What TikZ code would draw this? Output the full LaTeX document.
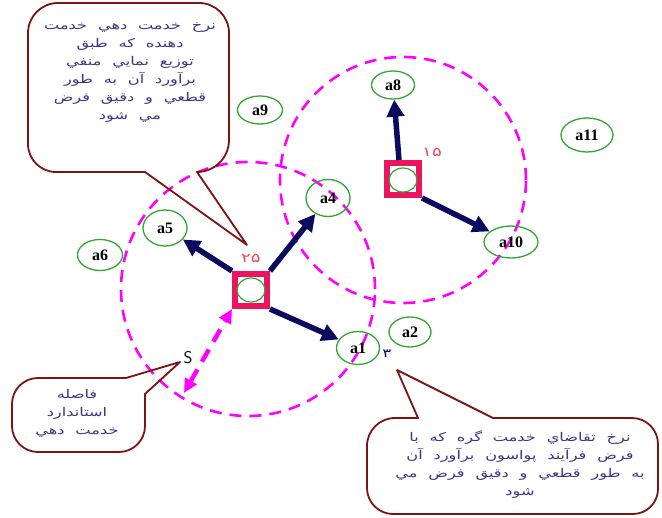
\documentclass[tikz,border=0pt]{standalone}
\usepackage{fontspec}
\usetikzlibrary{shapes.geometric,arrows.meta}
\TeXXeTstate=1
\newfontfamily\arabicfont[Script=Arabic,FakeStretch=1.35,WordSpace=2.1]{DejaVu Sans}
\newfontfamily\digfont[FakeStretch=1.4]{DejaVu Sans}
\newfontfamily\labfont{Liberation Serif}
\definecolor{mag}{RGB}{255,0,255}
\definecolor{sqc}{RGB}{235,20,95}
\definecolor{navy}{RGB}{10,10,95}
\definecolor{grn}{RGB}{50,165,50}
\definecolor{maroon}{RGB}{125,20,20}
\definecolor{txt}{RGB}{55,55,135}
\definecolor{redd}{RGB}{240,70,90}
\tikzset{
  lab/.style={ellipse, draw=grn, line width=1.3pt, inner sep=0pt,
    minimum width=44pt, minimum height=31pt,
    font=\labfont\bfseries\fontsize{16}{16}\selectfont},
  sq/.style={draw=sqc, line width=6pt, minimum size=32pt, inner sep=0pt},
  inner/.style={ellipse, draw=grn, line width=1.2pt, minimum width=28pt, minimum height=24pt, inner sep=0pt},
  narrow/.style={draw=navy, line width=5.5pt, -{Triangle[length=17pt,width=17pt]}},
  dashcirc/.style={draw=mag, line width=2.6pt, dash pattern=on 12pt off 8pt},
  callout/.style={draw=maroon, line width=1.8pt, line join=round},
  ctext/.style={text=txt, align=center, inner sep=0pt,
    font=\arabicfont\fontsize{12}{18}\selectfont},
  digit/.style={inner sep=0pt, font=\digfont\fontsize{13}{13}\selectfont}
}
\begin{document}
\begin{tikzpicture}[x=1pt,y=1pt]
\useasboundingbox (0,0) rectangle (662,-518);
% dashed service circles
\draw[dashcirc] (248,-289) circle[radius=127pt];
\draw[dashcirc] (403,-180) circle[radius=123pt];
% callout 1
\draw[callout] (145,-172) -- (247,-245) -- (197,-172)
  arc[start angle=270,end angle=360,radius=32pt] -- (229,-33)
  arc[start angle=0,end angle=90,radius=30pt] -- (58,-3)
  arc[start angle=90,end angle=180,radius=30pt] -- (28,-144)
  arc[start angle=180,end angle=270,radius=28pt] -- cycle;
\node[ctext] (t1) at (130,-72) {\beginR نرخ خدمت دهي خدمت\endR\\ \beginR دهنده كه طبق\endR\\ \beginR توزيع نمايي منفي\endR\\ \beginR برآورد آن به طور\endR\\ \beginR قطعي و دقيق فرض\endR\\ \beginR مي شود\endR};
% callout 2
\draw[callout] (397,-370) -- (493,-418) -- (632,-418)
  arc[start angle=90,end angle=0,radius=26pt] -- (658,-489)
  arc[start angle=0,end angle=-90,radius=25pt] -- (393,-514)
  arc[start angle=270,end angle=180,radius=26pt] -- (367,-446)
  arc[start angle=180,end angle=90,radius=28pt] -- (418,-418) -- cycle;
\node[ctext] (t2) at (520,-465) {\beginR نرخ تقاضاي خدمت گره كه با\endR\\ \beginR فرض فرآيند پواسون برآورد آن\endR\\ \beginR به طور قطعي و دقيق فرض مي\endR\\ \beginR شود\endR};
% callout 3
\draw[callout] (180,-362) -- (145,-394) -- (145,-426)
  arc[start angle=0,end angle=-90,radius=26pt] -- (38,-452)
  arc[start angle=270,end angle=180,radius=26pt] -- (12,-404)
  arc[start angle=180,end angle=90,radius=26pt] -- (126,-378) -- cycle;
\node[ctext] (t3) at (77,-413) {\beginR فاصله\endR\\ \beginR استاندارد\endR\\ \beginR خدمت دهي\endR};
% server squares
\node[sq] (s1) at (251,-290) {};
\node[inner] (c1) at (251,-290) {};
\node[sq] (s2) at (403,-179) {};
\node[inner] (c2) at (403,-180) {};
% nodes
\node[lab, minimum width=43pt, minimum height=28pt] (a8) at (393,-85) {a8};
\node[lab, minimum width=45pt, minimum height=28pt] (a9) at (260,-110) {a9};
\node[lab, minimum width=52pt, minimum height=34pt] (a11) at (587,-135) {a11};
\node[lab, minimum width=45pt, minimum height=31pt] (a6) at (100,-255) {a6};
\node[lab, minimum width=44pt, minimum height=36pt] (a5) at (165,-228) {a5};
\node[lab, minimum width=44pt, minimum height=37pt] (a4) at (328,-198) {a4};
\node[lab, minimum width=43pt, minimum height=33pt] (a1) at (358,-348) {a1};
\node[lab, minimum width=42pt, minimum height=30pt] (a2) at (410,-332) {a2};
\node[lab, minimum width=54pt, minimum height=32pt] (a10) at (511,-242) {a10};
% arrows
\draw[narrow] (s1.north west) -- (a5);
\draw[narrow] (s1.north east) -- (a4);
\draw[narrow] (s1.south east) -- (a1);
\draw[narrow] (s2.north) ++(-4pt,0) coordinate (s2t) (s2t) -- (a8);
\draw[narrow] (s2.south east) -- (a10);
% distance arrow
\coordinate (sd) at (184,-393);
\draw[draw=mag, line width=4.5pt, dash pattern=on 14pt off 9pt,
  {Triangle[length=14pt,width=13pt]}-{Triangle[length=14pt,width=13pt]}] (sd) -- (s1.south west);
% labels
\node[font=\sffamily\fontsize{17}{17}\selectfont, inner sep=0pt] (S) at (188,-358) {S};
\node[digit, text=redd] (n25) at (251,-258) {۲۵};
\node[digit, text=redd] (n15) at (432,-152) {۱۵};
\node[digit, text=navy, font=\digfont\fontsize{12}{12}\selectfont] (n3) at (387,-354) {۳};
\end{tikzpicture}
\end{document}
